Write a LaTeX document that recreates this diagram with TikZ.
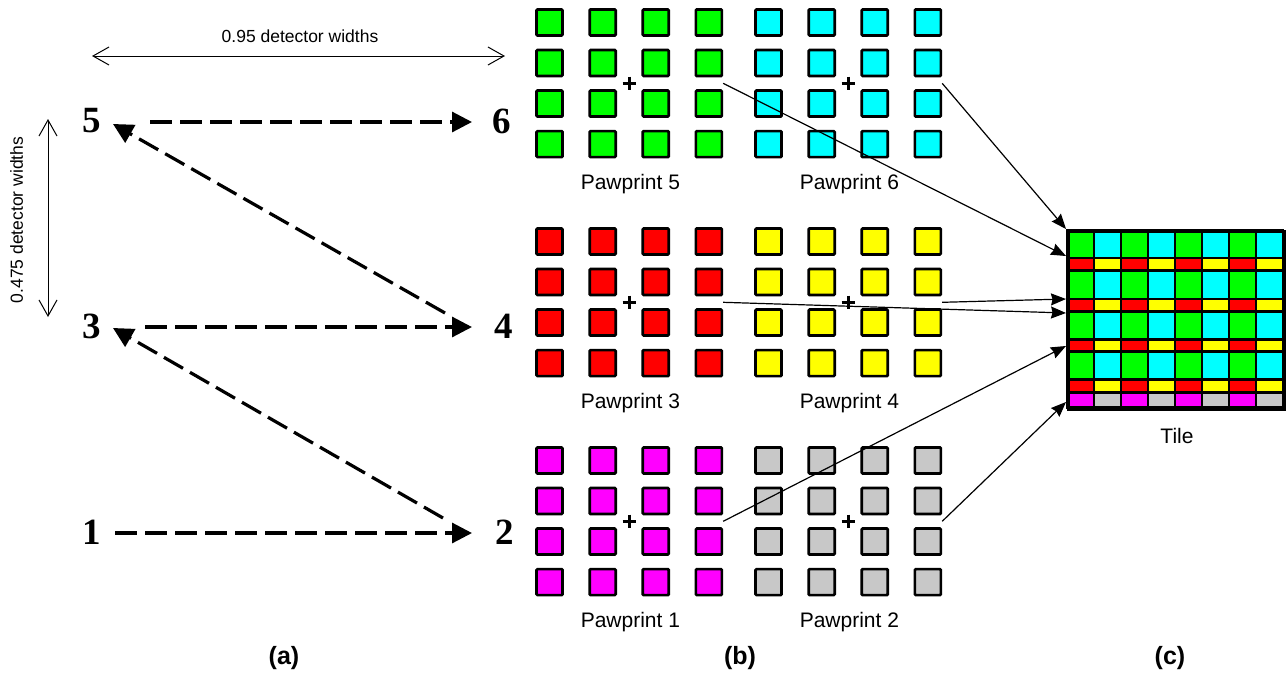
\documentclass[tikz,border=0pt]{standalone}
\usepackage{fontspec}
\setmainfont{Liberation Sans}
\newfontfamily\numfont{Liberation Serif}
\usetikzlibrary{arrows.meta,calc}

\definecolor{pgreen}{RGB}{0,255,0}
\definecolor{pcyan}{RGB}{0,255,255}
\definecolor{pred}{RGB}{255,0,0}
\definecolor{pyellow}{RGB}{255,255,0}
\definecolor{pmagenta}{RGB}{255,0,255}
\definecolor{pgray}{RGB}{200,200,200}

\begin{document}
\begin{tikzpicture}[x=1pt,y=-1pt,
  sq/.style={draw=black, line width=2.7pt, minimum size=26pt, inner sep=0pt, rounded corners=1pt},
  tilecell/.style={draw=black, line width=2.6pt},
  num/.style={font=\numfont\bfseries\fontsize{37}{37}\selectfont, inner sep=0pt},
  lbl/.style={font=\fontsize{21}{25}\selectfont, inner sep=0pt},
  dimlbl/.style={font=\fontsize{17.5}{20}\selectfont, inner sep=0pt},
  sublbl/.style={font=\bfseries\fontsize{25}{30}\selectfont, inner sep=0pt},
  dasharrow/.style={line width=3.2pt, dash pattern=on 22pt off 8pt,
    -{Triangle[length=20pt,width=20pt]}},
  dimarrow/.style={line width=1pt,
    {Straight Barb[length=16pt,width=18pt]}-{Straight Barb[length=16pt,width=18pt]}},
  link/.style={line width=1.2pt, -{Stealth[length=15pt,width=12pt,inset=1.5pt]}},
  crossmark/.style={inner sep=0pt, minimum size=13pt}]
\useasboundingbox (0,0) rectangle (1286,673);

% ---------- (a) dither pattern ----------
\node[num] (n5) at (92,121) {5};
\node[num] (n6) at (502,121) {6};
\node[num] (n3) at (92,326) {3};
\node[num] (n4) at (504,326) {4};
\node[num] (n1) at (92,532) {1};
\node[num] (n2) at (505,532) {2};

\draw[dasharrow] ($(n1)+(23,1)$) -- ($(n2)+(-33,1)$);
\draw[dasharrow] ($(n2)+(-62,-14)$) -- ($(n3)+(21,2)$);
\draw[dasharrow] ($(n3)+(53,1)$) -- ($(n4)+(-32,1)$);
\draw[dasharrow] ($(n4)+(-59,-13)$) -- ($(n5)+(21,3)$);
\draw[dasharrow] ($(n5)+(58,1)$) -- ($(n6)+(-30,1)$);

% offset annotations
\coordinate (wL) at (92,56);
\coordinate (wR) at (505,56);
\draw[dimarrow] (wL) -- (wR);
\node[dimlbl, anchor=base] (wlbl) at (300,42) {0.95 detector widths};
\coordinate (hT) at (48,119);
\coordinate (hB) at (48,317);
\draw[dimarrow] (hT) -- (hB);
\node[dimlbl, rotate=90] (hlbl) at (16.5,220) {0.475 detector widths};

% ---------- (b) pawprints ----------
\foreach \id/\cx/\cy/\col in {5/629.2/83.3/pgreen, 6/848.2/83.3/pcyan,
                              3/629.2/302.3/pred, 4/848.2/302.3/pyellow,
                              1/629.2/521.3/pmagenta, 2/848.2/521.3/pgray}{
  \foreach \i in {0,...,3}{
    \foreach \j in {0,...,3}{
      \node[sq, fill=\col] (p\id-\i\j) at ({\cx+(\i-1.5)*53.1},{\cy+(\j-1.5)*40.55}) {};
    }
  }
  \node[crossmark] (c\id) at (\cx,\cy) {};
  \draw[line width=2.6pt] (c\id.north) -- (c\id.south) (c\id.west) -- (c\id.east);
  \node[lbl, anchor=base] (l\id) at (\cx+1.2,\cy+105.7) {Pawprint \id};
}

% ---------- (c) tile ----------
\foreach \yt/\yb/\ca/\cb in {230/258/pgreen/pcyan, 258/270.7/pred/pyellow,
                             270.7/299/pgreen/pcyan, 299/311.3/pred/pyellow,
                             311.3/339.3/pgreen/pcyan, 339.3/351.7/pred/pyellow,
                             351.7/379.5/pgreen/pcyan, 379.5/392.5/pred/pyellow,
                             392.5/407.5/pmagenta/pgray}{
  \foreach \k in {0,2,4,6}{
    \filldraw[tilecell, fill=\ca] ({1067+27*\k},\yt) rectangle ({1094+27*\k},\yb);
    \filldraw[tilecell, fill=\cb] ({1094+27*\k},\yt) rectangle ({1121+27*\k},\yb);
  }
}
\node[draw=black, line width=3pt, minimum width=216pt, minimum height=177.5pt,
      inner sep=0pt, anchor=north west] (tile) at (1067,230) {};
\node[lbl, anchor=base] (tlbl) at (1177,443) {Tile};

% pawprints combined into the tile
\draw[link] ($(c6)+(94,0)$) -- ($(tile.north west)+(-1,-1)$);
\draw[link] ($(c5)+(94,0)$) -- ($(tile.north west)+(-1,26)$);
\draw[link] ($(c4)+(94,0)$) -- ($(tile.north west)+(-1,69)$);
\draw[link] ($(c3)+(94,0)$) -- ($(tile.north west)+(-1,83)$);
\draw[link] ($(c1)+(94,0)$) -- ($(tile.north west)+(-1,116)$);
\draw[link] ($(c2)+(94,0)$) -- ($(tile.north west)+(-1,172)$);

% panel captions
\node[sublbl, anchor=base] (capa) at (284,664) {(a)};
\node[sublbl, anchor=base] (capb) at (740,664) {(b)};
\node[sublbl, anchor=base] (capc) at (1170,664) {(c)};
\end{tikzpicture}
\end{document}
